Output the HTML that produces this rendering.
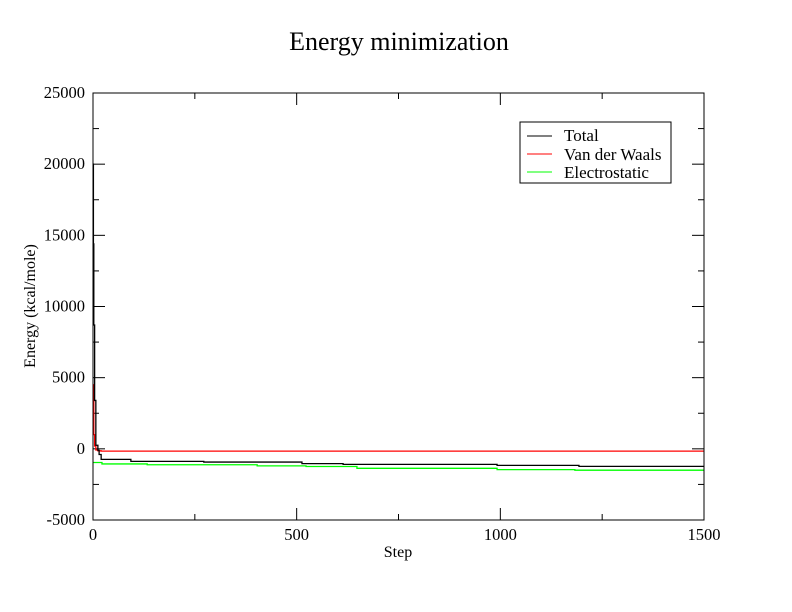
<!DOCTYPE html>
<html><head><meta charset="utf-8"><style>
body{margin:0;background:#fff;}
svg{display:block;font-family:"Liberation Serif",serif;}
</style></head><body>
<svg id="c" width="792" height="612">
<rect width="792" height="612" fill="#fff"/>
<text x="399" y="50" font-size="26" text-anchor="middle">Energy minimization</text>
<text x="398" y="557" font-size="16" text-anchor="middle">Step</text>
<text transform="translate(35,306) rotate(-90)" font-size="16" text-anchor="middle">Energy (kcal/mole)</text>
<g id="plot"></g>
<rect x="93" y="93" width="611" height="427" fill="none" stroke="#000" stroke-width="1"/>
<g>
<rect x="520" y="122" width="151" height="61" fill="#fff" stroke="#000"/>
<line x1="527" y1="136" x2="552" y2="136" stroke="#000"/>
<text x="564" y="141" font-size="17">Total</text>
<line x1="527" y1="154" x2="552" y2="154" stroke="#f00"/>
<text x="564" y="160" font-size="17">Van der Waals</text>
<line x1="527" y1="172" x2="552" y2="172" stroke="#0f0"/>
<text x="564" y="178" font-size="17">Electrostatic</text>
</g>
</svg>
<script>
const xTicks=[0,500,1000,1500];
const yTicks=[-5000,0,5000,10000,15000,20000,25000];
const totalSteps=[0,1,2,4,7,12,15,20,93,272,513,614,992,1193,1500];
const totalValues=[20000,14400,8700,3400,250,-100,-400,-740,-880,-930,-1040,-1090,-1160,-1230,-1230];
const vdwSteps=[0,1,2,4,7,12,20,1500];
const vdwValues=[4500,3400,1000,200,-80,-140,-160,-160];
const elecSteps=[0,22,133,403,523,648,992,1183,1500];
const elecValues=[-960,-1060,-1120,-1200,-1240,-1370,-1460,-1500,-1500];
const X0=93,X1=704,Y0=520,Y1=93;
const sx=v=>X0+(v-0)/1500*(X1-X0);
const sy=v=>Y0-(v+5000)/30000*(Y0-Y1);
const NS="http://www.w3.org/2000/svg";
const g=document.getElementById('plot');
function mk(t,a){const e=document.createElementNS(NS,t);for(const k in a)e.setAttribute(k,a[k]);g.appendChild(e);return e;}
for(let i=0;i<xTicks.length;i++){
  const v=xTicks[i],x=sx(v);
  let l=mk('line',{x1:x,y1:Y0,x2:x,y2:Y0-12,stroke:'#000'});
  
  
  l=mk('line',{x1:x,y1:Y1,x2:x,y2:Y1+12,stroke:'#000'});
  
  
  const t=mk('text',{x:x,y:Y0+20,'font-size':16.5,'text-anchor':'middle'});t.textContent=v;
  
  
  if(i<xTicks.length-1){const m=sx((v+xTicks[i+1])/2);
    let a=mk('line',{x1:m,y1:Y0,x2:m,y2:Y0-6,stroke:'#000'});
    
    
    a=mk('line',{x1:m,y1:Y1,x2:m,y2:Y1+6,stroke:'#000'});
    
    }
}
for(let i=0;i<yTicks.length;i++){
  const v=yTicks[i],y=sy(v);
  let l=mk('line',{x1:X0,y1:y,x2:X0+12,y2:y,stroke:'#000'});
  
  
  l=mk('line',{x1:X1,y1:y,x2:X1-12,y2:y,stroke:'#000'});
  
  
  const t=mk('text',{x:X0-8,y:y+5,'font-size':16.5,'text-anchor':'end'});t.textContent=v;
  
  
  if(i<yTicks.length-1){const m=sy((v+yTicks[i+1])/2);
    let a=mk('line',{x1:X0,y1:m,x2:X0+6,y2:m,stroke:'#000'});
    
    
    a=mk('line',{x1:X1,y1:m,x2:X1-6,y2:m,stroke:'#000'});
    
    }
}
function series(st,vals,col,name){
  let d='';
  for(let i=0;i<st.length;i++){
    const x=sx(st[i]).toFixed(2),y=sy(vals[i]).toFixed(2);
    if(i===0)d+='M'+x+','+y;
    else{d+='H'+x+'V'+y;}
  }
  const p=mk('path',{d:d,fill:'none',stroke:col,'stroke-width':1.3});
  
  
}
series(elecSteps,elecValues,'#0f0','electrostatic-line');
series(vdwSteps,vdwValues,'#f00','vdw-line');
series(totalSteps,totalValues,'#000','total-line');
</script>
</body></html>
